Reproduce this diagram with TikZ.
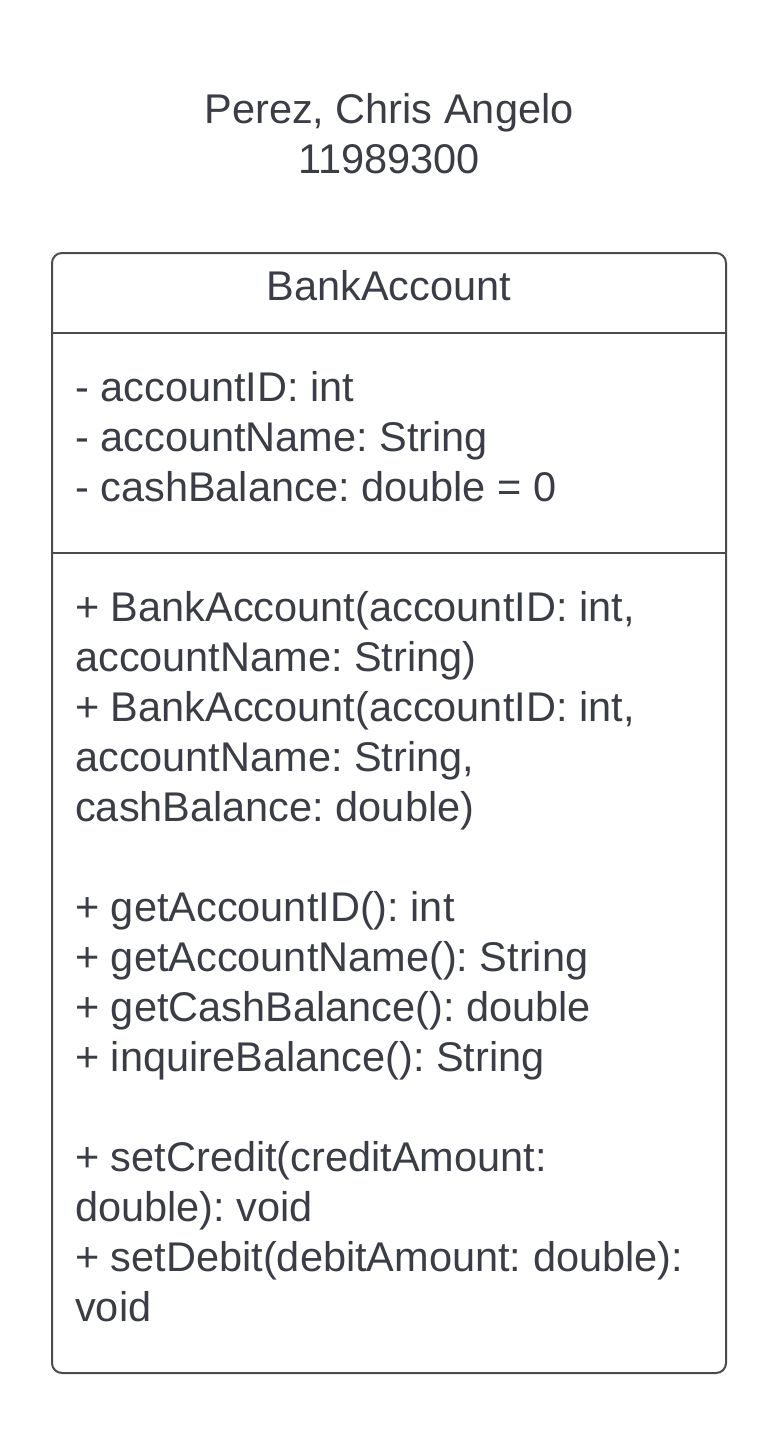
\documentclass[tikz,border=0pt]{standalone}
\usepackage{fontspec}
\setmainfont{Liberation Sans}
\usetikzlibrary{positioning}
\definecolor{inkgray}{HTML}{3A3D45}
\definecolor{linegray}{HTML}{4A4B4F}

\begin{document}
\frenchspacing
\begin{tikzpicture}[x=1pt,y=-1pt,
    every node/.style={text=inkgray, font=\fontsize{41.5}{50}\selectfont, inner sep=0pt},
    member/.style={anchor=base west, align=left},
    frame/.style={draw=linegray, line width=2pt}]
    \useasboundingbox (0,0) rectangle (772,1443);

    % header text (base = last line)
    \node[anchor=base, align=center] (author) at (389,173) {Perez, Chris Angelo\\11989300};

    % class box
    \coordinate (nw) at (52,253);
    \coordinate (se) at (726,1373);
    \draw[frame, rounded corners=10pt] (nw) rectangle (se);
    \node[anchor=base] (classname) at (389,300) {BankAccount};

    \coordinate (div1w) at (52,333);
    \coordinate (div1e) at (726,333);
    \coordinate (div2w) at (52,553);
    \coordinate (div2e) at (726,553);
    \draw[frame] (div1w) -- (div1e);
    \draw[frame] (div2w) -- (div2e);

    % attributes
    \node[member] (attrs) at (75,501) {- accountID: int\\- accountName: String\\- cashBalance: double = 0};

    % methods
    \node[member] (methods) at (75,1321) {+ BankAccount(accountID: int,\\accountName: String)\\+ BankAccount(accountID: int,\\accountName: String,\\cashBalance: double)\\\mbox{}\\+ getAccountID(): int\\+ getAccountName(): String\\+ getCashBalance(): double\\+ inquireBalance(): String\\\mbox{}\\+ setCredit(creditAmount:\\double): void\\+ setDebit(debitAmount: double):\\void};
\end{tikzpicture}
\end{document}
